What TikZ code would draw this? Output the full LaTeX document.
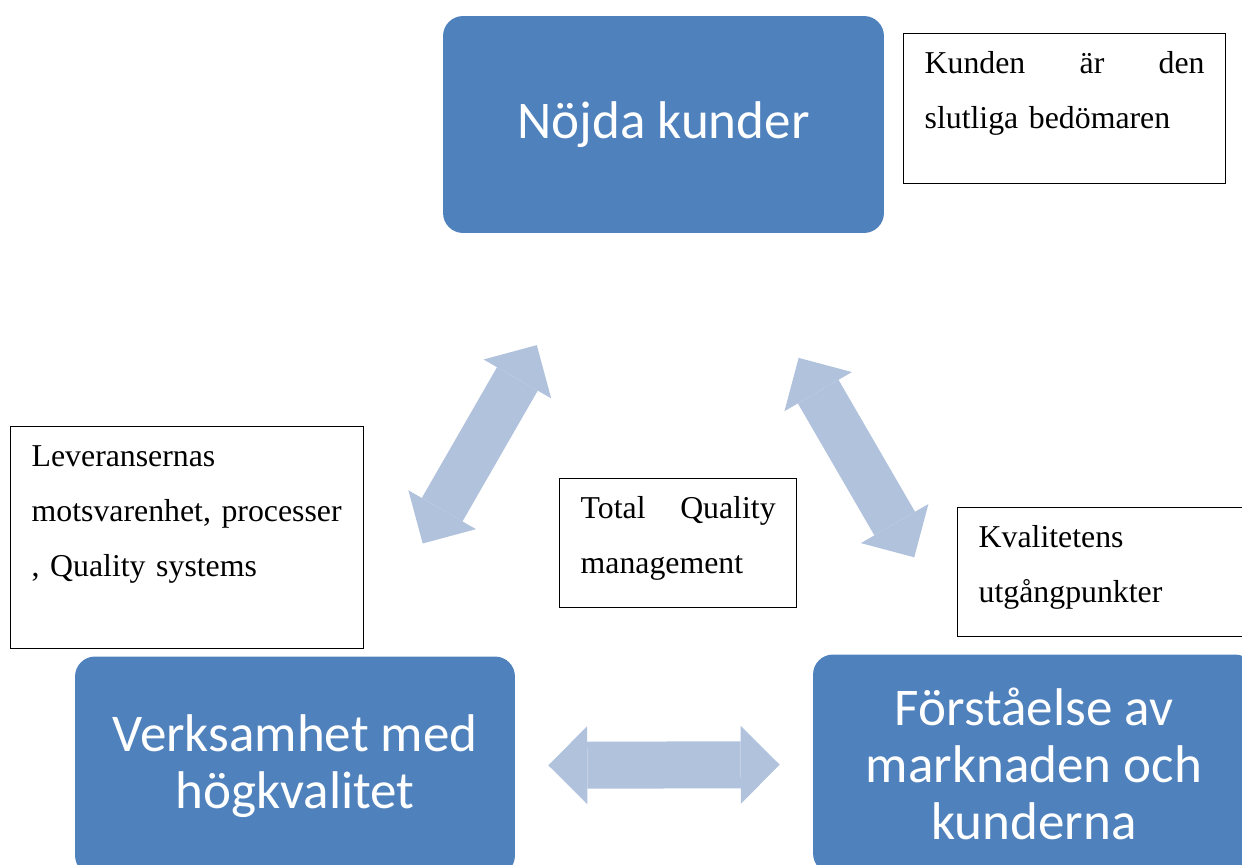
\documentclass[tikz,border=0pt]{standalone}
\usepackage{fontspec}
\setmainfont{Liberation Serif}
\newfontfamily\calibrifont{Carlito}
\usepackage{xcolor}
\usepackage{tikz}
\usetikzlibrary{arrows.meta}
\definecolor{boxblue}{HTML}{4F81BD}
\definecolor{arrowblue}{HTML}{B1C2DD}
\tikzstyle{bluenode} = [rectangle, rounded corners=0.4cm, fill=boxblue, text=white, align=center, inner sep=0pt, font=\calibrifont\fontsize{30.2}{32.5}\selectfont]
\tikzstyle{notenode} = [draw, rectangle, line width=0.8pt, fill=white, anchor=north west, align=left, inner xsep=0.42cm, inner ysep=0pt, text height=0.8cm, font=\fontsize{18.1}{31.2}\selectfont]
\tikzstyle{fatarrw} = [line width=0.94cm, color=arrowblue, {Triangle[length=0.78cm, width=1.56cm, line width=0pt]}-{Triangle[length=0.78cm, width=1.56cm, line width=0pt]}]

\begin{document}
\begin{tikzpicture}[x=0.02cm, y=-0.02cm]
    \clip (0,0) rectangle (1242,865);

    \node (nojda) [bluenode, minimum width=8.82cm, minimum height=4.34cm] at (663.5,124.5) {Nöjda kunder};
    \node (verksamhet) [bluenode, minimum width=8.8cm, minimum height=4.38cm] at (295,766) {Verksamhet med\\högkvalitet};
    \node (forstaelse) [bluenode, minimum width=8.84cm, minimum height=4.38cm] at (1034,764) {Förståelse av\\marknaden och\\kunderna};

    \node (kunden) [notenode, text width=5.6cm, text depth=2.2cm] at (903,33) {Kunden\hfill är\hfill den\\slutliga bedömaren};
    \node (leverans) [notenode, text width=6.22cm, text depth=3.64cm] at (10,426) {Leveransernas\\motsvarenhet, processer\\, Quality systems};
    \node (tqm) [notenode, text width=3.9cm, text depth=1.78cm] at (559,478) {Total\hfill Quality\\management};
    \node (kvalitet) [notenode, text width=5.62cm, text depth=1.78cm] at (957,507) {Kvalitetens\\utgångpunkter};

    % Arrows between the main boxes
    \draw [fatarrw, shorten <=2.58cm, shorten >=2.6cm] (nojda) -- (verksamhet);
    \draw [fatarrw, shorten <=2.88cm, shorten >=2.24cm] (nojda) -- (forstaelse);
    \draw [fatarrw, shorten <=0.66cm, shorten >=0.66cm] (verksamhet) -- (forstaelse);
\end{tikzpicture}
\end{document}
